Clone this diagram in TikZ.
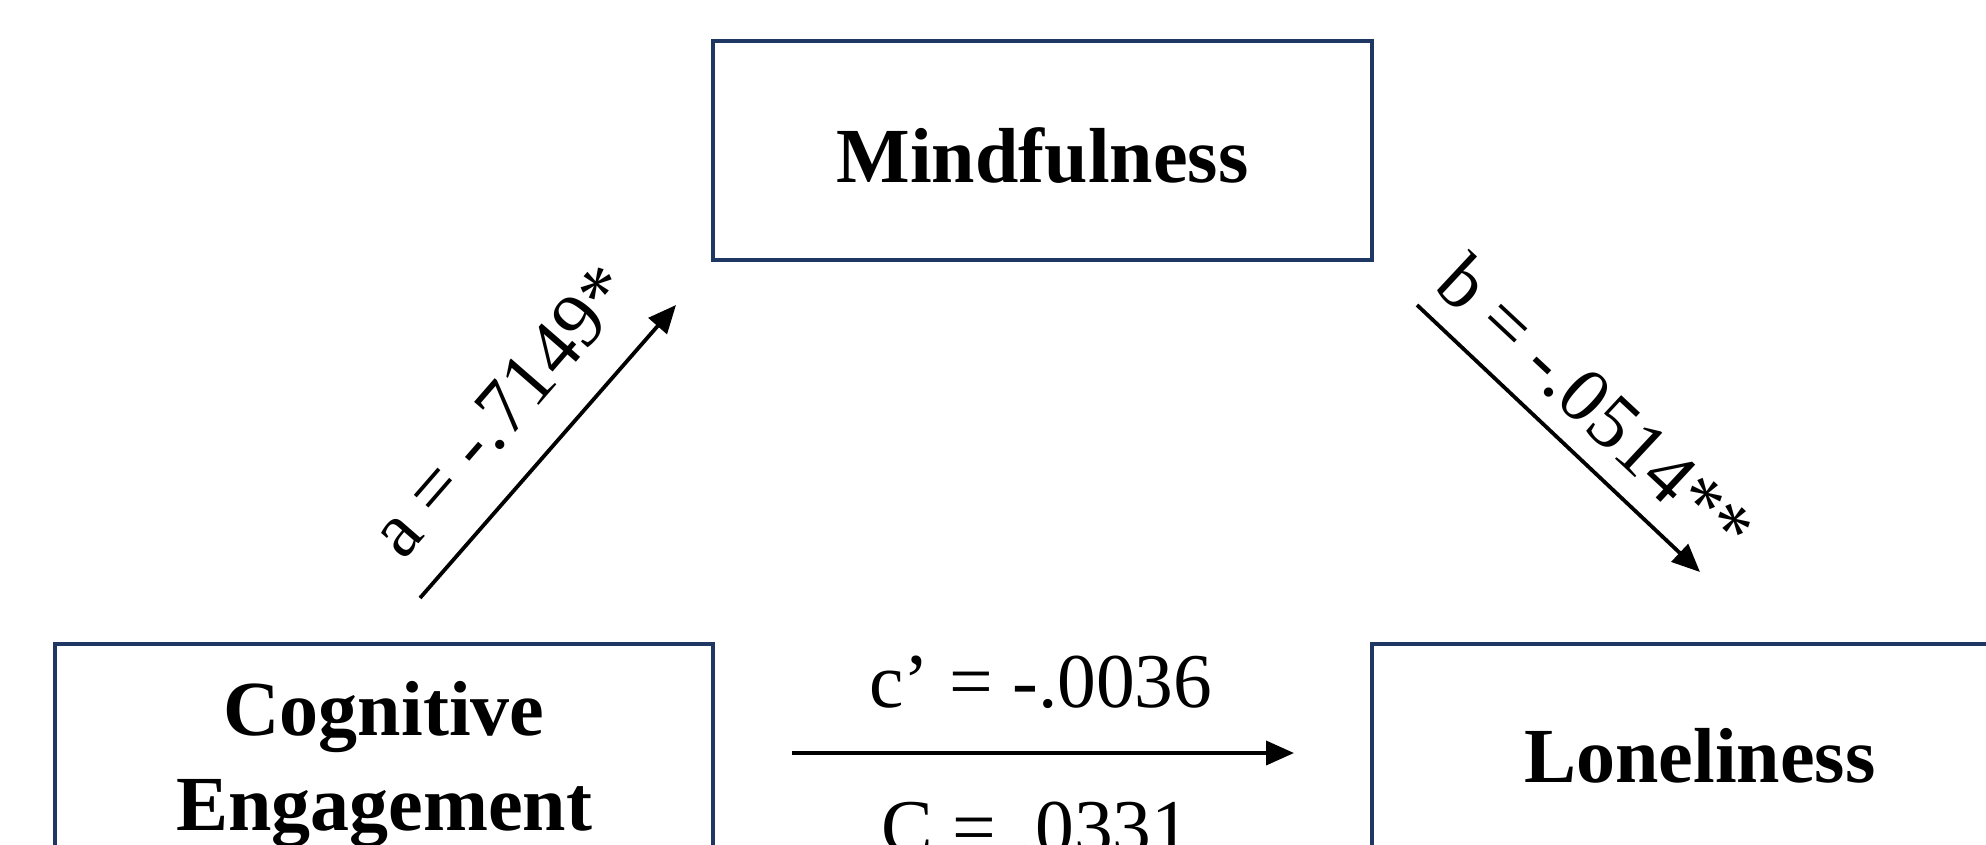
\documentclass[tikz,border=0pt]{standalone}
\usepackage{fontspec}
\setmainfont{Liberation Serif}
\usetikzlibrary{arrows.meta,calc}
\definecolor{navy}{HTML}{1F3763}
\begin{document}
\begin{tikzpicture}[x=1pt,y=1pt,
  box/.style={draw=navy, line width=4.5pt, fill=white, align=center, inner sep=0pt,
    font=\fontsize{78}{95}\selectfont\bfseries},
  lbl/.style={font=\fontsize{77.5}{93}\selectfont, inner sep=0pt},
  conn/.style={line width=3.8pt, -{Triangle[length=28pt,width=24pt]}}]
\useasboundingbox (0,0) rectangle (1986,-844);
\clip (0,0) rectangle (1986,-844);
\fill[white] (0,0) rectangle (1986,-844);
% boxes
\node[box, minimum width=659pt, minimum height=219pt, text height=63pt, text depth=0pt] (mind) at (1042.5,-150.5) {Mindfulness};
\node[box, minimum width=658pt, minimum height=241pt] (ce) at (384,-764.5) {Cognitive\\Engagement};
\node[box, minimum width=656pt, minimum height=223pt] (lone) at (1700,-755.5) {Loneliness};
% connectors
\coordinate (aS) at (420,-598); \coordinate (aE) at (676,-305);
\coordinate (bS) at (1417,-305); \coordinate (bE) at (1700,-572);
\coordinate (cS) at (792,-753); \coordinate (cE) at (1294,-753);
\draw[conn] (aS) -- (aE);
\draw[conn] (bS) -- (bE);
\draw[conn] (cS) -- (cE);
% labels
\node[lbl, rotate=49] (la) at (501,-411) {a = -.7149*};
\node[lbl, rotate=-43] (lb) at (1596,-405) {b = -.0514**};
\node[lbl, anchor=base] (lc1) at (1041,-707) {c’ = -.0036};
\node[lbl, anchor=base] (lc2) at (1036,-853) {C = .0331};
\end{tikzpicture}
\end{document}
